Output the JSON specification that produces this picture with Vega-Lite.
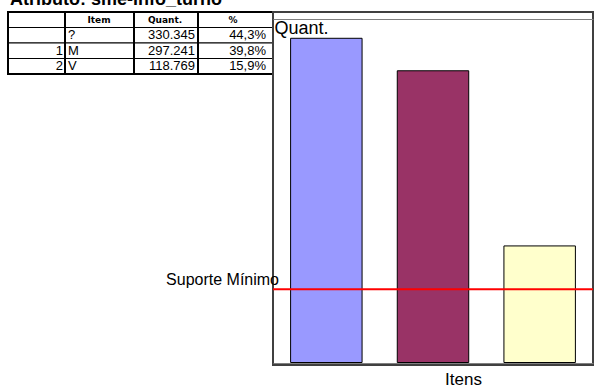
{
  "$schema": "https://vega.github.io/schema/vega-lite/v6.json",
  "padding": {"left": 7, "top": -9, "right": 0, "bottom": 0},
  "background": "white",
  "title": {
    "text": "Atributo: sme-info_turno",
    "anchor": "start",
    "offset": 2,
    "dx": 3,
    "font": "Liberation Sans",
    "fontSize": 18,
    "fontWeight": "bold",
    "color": "black"
  },
  "datasets": {
    "itens": [
      {"indice": "", "item": "?", "quant": 330345, "pct": 0.443},
      {"indice": "1", "item": "M", "quant": 297241, "pct": 0.398},
      {"indice": "2", "item": "V", "quant": 118769, "pct": 0.159}
    ],
    "suporte": [{"rotulo": "Suporte Mínimo", "valor": 74635.5}]
  },
  "bounds": "flush",
  "spacing": 0,
  "resolve": {"scale": {"x": "independent", "y": "independent", "color": "independent"}},
  "hconcat": [
    {
      "width": 57,
      "height": 62,
      "layer": [
        {
          "data": {"name": "itens"},
          "mark": {"type": "rect", "x": 0, "x2": "width", "fill": "white", "stroke": "black", "strokeWidth": 1},
          "encoding": {"y": {"field": "item", "type": "nominal", "scale": {"domain": ["cab", "?", "M", "V"], "paddingInner": 0, "paddingOuter": 0}, "axis": null}}
        },
        {
          "data": {"values": [{"rotulo": ""}]},
          "mark": {"type": "rect", "x": 0, "x2": "width", "fill": "white", "stroke": "black", "strokeWidth": 1},
          "encoding": {"y": {"datum": "cab", "type": "nominal"}}
        },
        {
          "data": {"name": "itens"},
          "mark": {"type": "text", "x": "width", "dx": -2, "align": "right", "baseline": "middle", "font": "Liberation Sans", "fontSize": 13, "color": "black"},
          "encoding": {"y": {"field": "item", "type": "nominal"}, "text": {"field": "indice"}}
        },
        {
          "data": {"values": [{}]},
          "mark": {"type": "rect", "x": 0, "x2": "width", "y": 0, "y2": "height", "fillOpacity": 0, "stroke": "black", "strokeWidth": 2},
          "encoding": {}
        }
      ]
    },
    {
      "width": 69,
      "height": 62,
      "layer": [
        {
          "data": {"name": "itens"},
          "mark": {"type": "rect", "x": 0, "x2": "width", "fill": "white", "stroke": "black", "strokeWidth": 1},
          "encoding": {"y": {"field": "item", "type": "nominal", "scale": {"domain": ["cab", "?", "M", "V"], "paddingInner": 0, "paddingOuter": 0}, "axis": null}}
        },
        {
          "data": {"values": [{"rotulo": "Item"}]},
          "mark": {"type": "rect", "x": 0, "x2": "width", "fill": "white", "stroke": "black", "strokeWidth": 1},
          "encoding": {"y": {"datum": "cab", "type": "nominal"}}
        },
        {
          "data": {"values": [{"rotulo": "Item"}]},
          "mark": {"type": "text", "x": 0, "dx": 34, "align": "center", "baseline": "middle", "font": "DejaVu Sans", "fontSize": 9, "fontWeight": "bold", "color": "black"},
          "encoding": {"y": {"datum": "cab", "type": "nominal"}, "text": {"field": "rotulo"}}
        },
        {
          "data": {"name": "itens"},
          "mark": {"type": "text", "x": 0, "dx": 3, "align": "left", "baseline": "middle", "font": "Liberation Sans", "fontSize": 13, "color": "black"},
          "encoding": {"y": {"field": "item", "type": "nominal"}, "text": {"field": "item"}}
        },
        {
          "data": {"values": [{}]},
          "mark": {"type": "rect", "x": 0, "x2": "width", "y": 0, "y2": "height", "fillOpacity": 0, "stroke": "black", "strokeWidth": 2},
          "encoding": {}
        }
      ]
    },
    {
      "width": 64,
      "height": 62,
      "layer": [
        {
          "data": {"name": "itens"},
          "mark": {"type": "rect", "x": 0, "x2": "width", "fill": "white", "stroke": "black", "strokeWidth": 1},
          "encoding": {"y": {"field": "item", "type": "nominal", "scale": {"domain": ["cab", "?", "M", "V"], "paddingInner": 0, "paddingOuter": 0}, "axis": null}}
        },
        {
          "data": {"values": [{"rotulo": "Quant."}]},
          "mark": {"type": "rect", "x": 0, "x2": "width", "fill": "white", "stroke": "black", "strokeWidth": 1},
          "encoding": {"y": {"datum": "cab", "type": "nominal"}}
        },
        {
          "data": {"values": [{"rotulo": "Quant."}]},
          "mark": {"type": "text", "x": 0, "dx": 31, "align": "center", "baseline": "middle", "font": "DejaVu Sans", "fontSize": 9, "fontWeight": "bold", "color": "black"},
          "encoding": {"y": {"datum": "cab", "type": "nominal"}, "text": {"field": "rotulo"}}
        },
        {
          "data": {"name": "itens"},
          "mark": {"type": "text", "x": "width", "dx": -3, "align": "right", "baseline": "middle", "font": "Liberation Sans", "fontSize": 13, "color": "black"},
          "encoding": {"y": {"field": "item", "type": "nominal"}, "text": {"field": "quant", "format": ",.0f"}}
        },
        {
          "data": {"values": [{}]},
          "mark": {"type": "rect", "x": 0, "x2": "width", "y": 0, "y2": "height", "fillOpacity": 0, "stroke": "black", "strokeWidth": 2},
          "encoding": {}
        }
      ]
    },
    {
      "width": 75,
      "height": 62,
      "layer": [
        {
          "data": {"name": "itens"},
          "mark": {"type": "rect", "x": 0, "x2": "width", "x2Offset": -5, "fill": "white", "stroke": "black", "strokeWidth": 1},
          "encoding": {"y": {"field": "item", "type": "nominal", "scale": {"domain": ["cab", "?", "M", "V"], "paddingInner": 0, "paddingOuter": 0}, "axis": null}}
        },
        {
          "data": {"values": [{"rotulo": "%"}]},
          "mark": {"type": "rect", "x": 0, "x2": "width", "x2Offset": -5, "fill": "white", "stroke": "black", "strokeWidth": 1},
          "encoding": {"y": {"datum": "cab", "type": "nominal"}}
        },
        {
          "data": {"values": [{"rotulo": "%"}]},
          "mark": {"type": "text", "x": 0, "dx": 35, "align": "center", "baseline": "middle", "font": "DejaVu Sans", "fontSize": 9, "fontWeight": "bold", "color": "black"},
          "encoding": {"y": {"datum": "cab", "type": "nominal"}, "text": {"field": "rotulo"}}
        },
        {
          "data": {"name": "itens"},
          "mark": {"type": "text", "x": "width", "dx": -7, "align": "right", "baseline": "middle", "font": "Liberation Sans", "fontSize": 13, "color": "black"},
          "encoding": {"y": {"field": "item", "type": "nominal"}, "text": {"field": "pct", "format": ".1%"}}
        },
        {
          "data": {"values": [{}]},
          "mark": {"type": "rect", "x": 0, "x2": "width", "x2Offset": -5, "y": 0, "y2": "height", "fillOpacity": 0, "stroke": "black", "strokeWidth": 2},
          "encoding": {}
        }
      ]
    },
    {
      "width": 320,
      "height": 353,
      "view": {"stroke": "#404040", "strokeWidth": 2},
      "layer": [
        {
          "data": {"name": "itens"},
          "mark": {"type": "bar", "stroke": "black", "strokeWidth": 1},
          "encoding": {
            "x": {
              "field": "item",
              "type": "nominal",
              "scale": {"domain": ["?", "M", "V"], "paddingInner": 0.33, "paddingOuter": 0.165},
              "axis": {
                "labels": false, "ticks": false, "domain": false, "grid": false,
                "title": "Itens", "titleFont": "Liberation Sans", "titleFontSize": 17, "titleFontWeight": "normal", "titleColor": "black",
                "titleX": 190, "titleY": 19, "titleAlign": "center", "titleBaseline": "alphabetic"
              }
            },
            "y": {
              "field": "quant",
              "type": "quantitative",
              "scale": {"domain": [-2547, 357132], "nice": false, "zero": false},
              "axis": {
                "labels": false, "ticks": false, "domain": false,
                "grid": true, "values": [0, 350000], "gridColor": "#808080", "gridOpacity": 1, "gridWidth": 1,
                "title": "Quant.", "titleFont": "Liberation Sans", "titleFontSize": 18, "titleFontWeight": "normal", "titleColor": "black",
                "titleAngle": 0, "titleAlign": "left", "titleBaseline": "top", "titleX": 1, "titleY": 7
              }
            },
            "y2": {"datum": 0},
            "color": {
              "field": "item",
              "type": "nominal",
              "scale": {"domain": ["?", "M", "V"], "range": ["#9999FF", "#993366", "#FFFFCC"]},
              "legend": null
            }
          }
        },
        {
          "data": {"name": "suporte"},
          "mark": {"type": "rule", "color": "#FF0000", "strokeWidth": 2},
          "encoding": {"y": {"field": "valor", "type": "quantitative"}}
        },
        {
          "data": {"name": "suporte"},
          "mark": {"type": "text", "x": 0, "dx": 6, "dy": -4, "align": "right", "baseline": "alphabetic", "font": "Liberation Sans", "fontSize": 16, "color": "black"},
          "encoding": {"y": {"field": "valor", "type": "quantitative"}, "text": {"field": "rotulo"}}
        }
      ]
    }
  ],
  "config": {
    "view": {"stroke": null},
    "font": "Liberation Sans",
    "locale": {"number": {"decimal": ",", "thousands": ".", "grouping": [3], "currency": ["R$", ""]}}
  }
}
